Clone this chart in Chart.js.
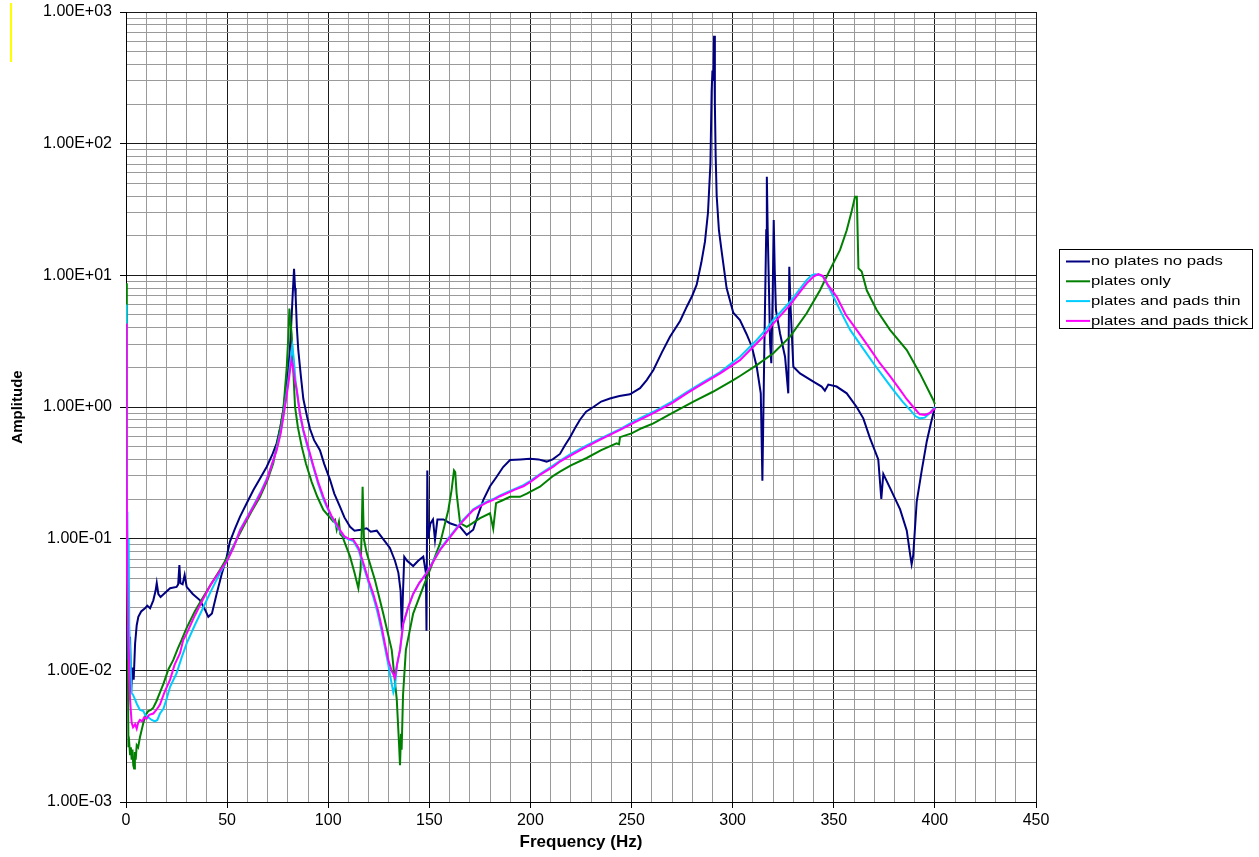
<!DOCTYPE html>
<html>
<head>
<meta charset="utf-8">
<script src="https://cdn.jsdelivr.net/npm/chart.js@4.4.0/dist/chart.umd.min.js"></script>
<style>
html,body{margin:0;padding:0;background:#ffffff;}
#wrap{position:relative;width:1259px;height:857px;}
#mark{position:absolute;left:10px;top:3px;width:2px;height:59px;background:#ffff00;}
</style>
</head>
<body>
<div id="wrap"><canvas id="c" width="1259" height="857"></canvas><div id="mark"></div></div>
<script>
// ---------------- data ----------------
const seriesNames = ['no plates no pads', 'plates only', 'plates and pads thin', 'plates and pads thick'];
const seriesColors = ['#000080', '#008000', '#00CCFF', '#FF00FF'];

const freqNoPlates = [0,0.5,1.0,1.5,2.0,2.5,3.2,3.8,4.5,5.3,6.1,7.5,9.4,10.5,11.9,13.5,14.6,15.2,16.0,17.1,19.5,21.8,25.0,25.8,26.4,26.9,28.0,29.0,30.0,33.0,36.6,39.0,40.7,42.5,44.8,47.5,49.8,51.4,54.0,56.4,60.0,63.0,66.5,69.6,72.5,74.5,76.5,77.8,79.0,80.3,81.3,81.9,82.5,83.1,83.6,83.9,84.5,85.2,86.5,87.7,89.5,91.0,93.0,95.9,98.0,100.9,103.0,105.8,108.0,110.8,113.0,116.0,119.0,121.0,124.0,127.0,130.5,133.0,134.7,135.8,136.4,137.0,137.6,139.0,142.0,144.5,147.0,148.3,148.6,149.0,149.4,150.5,151.8,152.8,154.0,157.0,160.2,165.2,168.5,171.7,174.0,176.7,180.0,183.3,186.5,189.9,195.0,199.8,204.0,208.0,211.0,214.6,217.0,219.6,222.0,224.5,227.5,231.1,235.0,239.3,244.0,249.2,254.2,257.5,260.8,265.0,269.0,274.0,277.3,280.0,282.2,284.5,286.3,287.8,289.0,289.6,290.0,290.4,290.8,291.2,291.6,292.1,293.2,294.6,297.0,300.3,303.6,306.9,309.5,311.9,313.9,314.7,315.6,316.6,316.9,317.3,318.0,318.5,319.1,319.8,320.3,320.8,321.4,323.4,325.9,327.5,328.0,328.7,330.0,333.3,339.9,344.0,345.6,347.3,351.4,356.4,361.3,364.6,367.9,372.0,373.5,374.5,377.8,382.8,386.1,387.8,388.5,389.3,391.0,393.5,396.0,398.0,400.0];
const ampNoPlates = [0.022,0.012,0.02,0.011,0.018,0.0068,0.0105,0.0085,0.016,0.022,0.0255,0.028,0.0296,0.031,0.0296,0.034,0.040,0.046,0.038,0.036,0.039,0.042,0.043,0.045,0.063,0.046,0.045,0.053,0.043,0.038,0.034,0.029,0.0255,0.027,0.038,0.055,0.073,0.095,0.12,0.147,0.19,0.234,0.29,0.352,0.44,0.53,0.72,0.95,1.35,1.91,3.2,4.85,7.5,11.2,8.0,6.9,4.0,2.7,1.7,1.15,0.85,0.68,0.56,0.47,0.37,0.28,0.22,0.175,0.145,0.123,0.115,0.117,0.12,0.113,0.115,0.10,0.085,0.068,0.055,0.04,0.02,0.04,0.073,0.068,0.062,0.068,0.073,0.055,0.02,0.33,0.10,0.13,0.14,0.098,0.14,0.14,0.131,0.123,0.107,0.117,0.15,0.197,0.25,0.295,0.35,0.396,0.40,0.405,0.40,0.385,0.40,0.44,0.51,0.59,0.69,0.8,0.92,1.0,1.1,1.16,1.21,1.25,1.39,1.6,1.91,2.6,3.42,4.5,5.78,7.0,8.5,12.5,18,30,70,250,360,300,660,200,80,40,22,15,8.0,5.2,4.58,3.57,2.87,2.02,1.27,0.275,2.41,22,56,23,7.3,3.05,2.15,7.3,26.3,11,5.45,3.63,2.41,1.27,11.6,5.45,2.02,1.8,1.56,1.43,1.33,1.48,1.43,1.27,1.0,0.82,0.58,0.40,0.2,0.31,0.243,0.167,0.115,0.075,0.064,0.075,0.19,0.33,0.55,0.75,1.0];

const freqPlatesOnly = [0,0.4,0.8,1.2,1.6,2.0,2.4,2.8,3.2,3.6,4.0,4.4,4.8,5.3,6.0,6.9,7.7,8.6,9.8,11.0,12.3,13.5,15.0,16.8,18.5,21.0,23.4,25.5,27.5,30.0,34.0,38.2,42.0,46.5,51.4,55.0,58.0,62.0,66.3,70.0,72.8,75.5,77.8,79.5,80.3,80.8,81.3,81.9,82.8,83.6,85.0,86.9,89.0,91.8,94.5,97.6,100.0,102.5,103.4,104.2,105.3,106.0,107.0,110.8,113.0,114.9,116.0,116.6,117.0,117.4,117.7,119.0,123.1,127.2,131.4,133.9,135.0,135.5,136.0,136.3,137.0,138.4,142.0,147.0,150.3,155.3,159.4,161.0,162.2,162.8,163.5,165.2,168.5,171.0,175.1,180.0,181.6,183.0,186.0,189.9,194.8,198.2,199.8,204.7,211.3,214.6,220.0,227.8,235.0,242.6,243.8,244.3,250.0,255.0,260.8,270.0,280.6,290.0,300.3,303.6,311.9,320.1,328.4,336.6,343.2,348.1,353.1,356.4,358.9,360.5,361.4,362.2,363.8,366.3,371.2,377.8,386.1,392.6,399.2,400.0];
const ampPlatesOnly = [8.7,0.3,0.02,0.0026,0.0028,0.0023,0.0026,0.0021,0.0025,0.0019,0.0018,0.0024,0.0021,0.0027,0.0026,0.0031,0.0035,0.004,0.0046,0.0049,0.005,0.0052,0.0058,0.0068,0.0079,0.0102,0.012,0.0145,0.017,0.021,0.028,0.036,0.045,0.058,0.078,0.1,0.123,0.16,0.208,0.28,0.373,0.6,0.95,2.02,3.5,5.6,4.5,3.6,1.8,1.0,0.7,0.5,0.37,0.27,0.21,0.165,0.15,0.135,0.139,0.117,0.135,0.108,0.104,0.073,0.055,0.042,0.058,0.12,0.248,0.14,0.098,0.078,0.0485,0.027,0.0143,0.006,0.0028,0.0019,0.0033,0.0025,0.0065,0.0143,0.027,0.043,0.058,0.092,0.165,0.234,0.33,0.32,0.22,0.131,0.123,0.13,0.143,0.156,0.119,0.186,0.195,0.208,0.208,0.22,0.227,0.248,0.3,0.323,0.36,0.41,0.47,0.53,0.52,0.59,0.63,0.69,0.75,0.9,1.1,1.3,1.6,1.72,2.08,2.56,3.42,5.15,7.7,11,15.6,22,31,39.5,39.5,11.3,10.7,7.7,5.45,3.85,2.71,1.8,1.13,1.05];

const freqPadsThin = [0,0.25,0.5,0.7,1.0,1.3,1.6,2.2,2.8,3.5,4.5,5.5,6.9,8.6,9.4,11.0,12.7,14.3,15.5,16.8,18.5,20.0,21.8,25.0,27.5,30.0,34.0,38.2,42.0,46.5,50.0,53.1,56.4,60.0,63.0,66.5,69.6,72.0,74.5,76.5,77.8,79.0,80.3,81.4,82.3,83.0,83.8,84.6,86.0,87.7,90.0,92.6,95.0,97.6,99.2,101.5,104.2,106.0,108.0,110.0,112.4,115.0,117.4,120.0,122.3,124.5,126.4,128.0,129.7,131.0,132.2,133.0,134.0,135.5,137.1,139.5,142.0,145.0,148.6,152.0,155.3,158.5,161.8,166.0,171.7,176.0,179.0,181.6,185.0,189.9,192.0,196.5,200.0,204.7,211.3,214.6,220.0,227.8,235.0,244.3,252.0,260.8,270.0,277.3,285.0,293.8,303.6,311.9,316.0,320.1,328.4,333.0,336.6,339.0,340.7,342.5,344.8,347.0,349.8,354.0,358.1,364.0,369.6,374.5,379.4,384.0,387.7,390.5,392.6,395.0,397.5,400.0];
const ampPadsThin = [6.0,0.5,0.16,0.12,0.035,0.1,0.022,0.012,0.0067,0.0065,0.006,0.0055,0.005,0.0049,0.0046,0.0044,0.0042,0.0041,0.0042,0.0047,0.0051,0.006,0.0075,0.0095,0.0125,0.016,0.022,0.030,0.040,0.055,0.068,0.086,0.117,0.147,0.178,0.225,0.285,0.36,0.48,0.65,0.86,1.15,1.6,2.3,2.87,2.3,1.6,1.3,0.88,0.65,0.48,0.35,0.26,0.2,0.175,0.148,0.125,0.113,0.103,0.099,0.096,0.082,0.062,0.046,0.036,0.027,0.02,0.015,0.011,0.0085,0.0068,0.0075,0.011,0.0143,0.0225,0.03,0.038,0.046,0.055,0.068,0.083,0.097,0.112,0.135,0.167,0.183,0.193,0.2,0.213,0.23,0.238,0.255,0.275,0.31,0.36,0.39,0.44,0.51,0.58,0.68,0.79,0.92,1.1,1.3,1.53,1.84,2.41,3.23,3.8,4.58,6.3,7.8,9.2,10.0,10.2,10.1,9.8,8.4,6.9,5.1,3.85,2.85,2.15,1.7,1.35,1.1,0.95,0.85,0.82,0.83,0.9,1.0];

const freqPadsThick = [0,0.3,0.6,1.0,1.5,2.0,2.8,3.5,4.5,5.3,6.0,6.9,8.0,9.0,10.2,11.5,13.5,15.0,16.8,19.0,21.8,24.0,26.7,28.3,30.0,34.0,38.2,42.0,46.5,50.0,53.1,56.4,60.0,63.0,66.5,69.6,72.0,74.5,76.5,77.8,79.0,80.3,81.3,81.9,82.6,83.5,84.4,86.0,87.7,90.0,92.6,95.0,97.6,99.2,101.5,104.2,106.0,108.0,110.0,112.4,115.0,117.4,120.0,122.3,124.5,126.4,128.0,129.7,131.5,133.0,134.0,135.5,137.1,139.5,142.0,145.0,148.6,152.0,155.3,158.5,161.8,166.0,171.7,176.0,179.0,181.6,185.0,189.9,192.0,196.5,200.0,204.7,211.3,214.6,220.0,227.8,235.0,244.3,252.0,260.8,270.0,277.3,285.0,293.8,303.6,310.2,315.0,320.1,328.4,333.0,336.6,340.0,342.4,344.5,347.0,351.4,356.0,361.3,367.0,372.8,378.0,382.8,386.0,389.3,392.5,395.1,397.5,400.0];
const ampPadsThick = [4.3,0.35,0.05,0.02,0.011,0.006,0.0040,0.0037,0.0039,0.0036,0.0040,0.0042,0.0041,0.0044,0.0043,0.0046,0.0047,0.005,0.0055,0.0068,0.0085,0.011,0.0135,0.017,0.019,0.026,0.035,0.045,0.057,0.068,0.085,0.115,0.145,0.175,0.22,0.28,0.36,0.47,0.63,0.84,1.1,1.51,2.0,2.27,2.0,1.6,1.35,0.9,0.67,0.5,0.36,0.27,0.208,0.18,0.15,0.128,0.115,0.104,0.1,0.098,0.085,0.065,0.048,0.038,0.029,0.0215,0.016,0.012,0.0098,0.0088,0.011,0.0143,0.0227,0.03,0.038,0.046,0.0546,0.067,0.082,0.095,0.11,0.133,0.165,0.18,0.19,0.197,0.21,0.227,0.235,0.25,0.27,0.305,0.352,0.385,0.43,0.5,0.57,0.67,0.77,0.9,1.07,1.27,1.5,1.8,2.27,2.87,3.4,4.3,5.96,7.4,8.7,9.8,10.2,9.9,8.5,6.9,5.0,3.85,2.9,2.15,1.7,1.35,1.15,1.0,0.88,0.87,0.9,0.98];

const yDecades = [0.001, 0.01, 0.1, 1, 10, 100, 1000];
const yTickLabels = ['1.00E-03', '1.00E-02', '1.00E-01', '1.00E+00', '1.00E+01', '1.00E+02', '1.00E+03'];
const xMin = 0, xMax = 450, xMinorStep = 10, xLabelStep = 50;

// ---------------- build ----------------
const freqs = [freqNoPlates, freqPlatesOnly, freqPadsThin, freqPadsThick];
const amps = [ampNoPlates, ampPlatesOnly, ampPadsThin, ampPadsThick];
const drawOrder = [4, 3, 2, 1];

const datasets = seriesNames.map((name, i) => ({
  label: name,
  data: freqs[i].map((f, k) => ({x: f, y: amps[i][k]})),
  borderColor: seriesColors[i],
  backgroundColor: seriesColors[i],
  borderWidth: 2,
  pointRadius: 0,
  fill: false,
  tension: 0,
  order: drawOrder[i]
}));

const xTicks = [];
for (let v = xMin; v <= xMax; v += xMinorStep) xTicks.push(v);
const yTicks = [];
yDecades.forEach((d, i) => {
  if (i === yDecades.length - 1) { yTicks.push(d); return; }
  for (let m = 1; m <= 9; m++) yTicks.push(+(d * m).toPrecision(6));
});

function decadeIndex(v) {
  for (let i = 0; i < yDecades.length; i++) {
    if (Math.abs(v / yDecades[i] - 1) < 1e-6) return i;
  }
  return -1;
}
const FONT = "'Liberation Sans', Arial, sans-serif";
const MAJOR = '#1a1a1a', MINOR = '#9a9a9a';

const boxLegend = {
  id: 'boxLegend',
  afterDraw(chart) {
    const ctx = chart.ctx;
    ctx.save();
    const bx = 1059.5, by = 249.5, bw = 193, bh = 79;
    ctx.fillStyle = '#ffffff';
    ctx.fillRect(bx, by, bw, bh);
    ctx.strokeStyle = '#000000';
    ctx.lineWidth = 1;
    ctx.strokeRect(bx, by, bw, bh);
    ctx.font = '13.5px ' + FONT;
    ctx.textBaseline = 'middle';
    ctx.textAlign = 'left';
    let longest = 0;
    chart.data.datasets.forEach(ds => { longest = Math.max(longest, ctx.measureText(ds.label).width); });
    const sx = 157 / longest;
    chart.data.datasets.forEach((ds, i) => {
      const y = 261.5 + i * 19.8;
      ctx.strokeStyle = ds.borderColor;
      ctx.lineWidth = 2;
      ctx.beginPath();
      ctx.moveTo(1066, y);
      ctx.lineTo(1090, y);
      ctx.stroke();
      ctx.save();
      ctx.translate(1091, y);
      ctx.scale(sx, 1);
      ctx.fillStyle = '#000000';
      ctx.fillText(ds.label, 0, 0);
      ctx.restore();
    });
    ctx.restore();
  }
};

new Chart(document.getElementById('c'), {
  type: 'line',
  data: {datasets},
  plugins: [boxLegend],
  options: {
    responsive: false,
    animation: false,
    devicePixelRatio: 1,
    layout: {padding: {left: 0, right: 223, top: 12, bottom: 0}},
    plugins: {legend: {display: false}, tooltip: {enabled: false}},
    scales: {
      x: {
        type: 'linear',
        min: xMin, max: xMax,
        afterBuildTicks: s => { s.ticks = xTicks.map(v => ({value: v})); },
        afterFit: s => { s.height = 55; },
        ticks: {
          autoSkip: false, maxRotation: 0, minRotation: 0, padding: 3,
          color: '#000', font: {family: FONT, size: 16},
          callback: v => (v % xLabelStep === 0 ? String(v) : '')
        },
        grid: {
          color: c => (c.tick && c.tick.value % xLabelStep === 0 ? MAJOR : MINOR),
          lineWidth: 1,
          drawTicks: true,
          tickLength: 6,
          tickColor: c => (c.tick && c.tick.value % xLabelStep === 0 ? '#000' : 'rgba(0,0,0,0)')
        },
        border: {display: true, color: '#000', width: 1},
        title: {display: true, text: 'Frequency (Hz)', color: '#000',
                font: {family: FONT, size: 17, weight: 'bold'}, padding: {top: 0, bottom: 4}}
      },
      y: {
        type: 'logarithmic',
        min: yDecades[0], max: yDecades[yDecades.length - 1],
        afterBuildTicks: s => { s.ticks = yTicks.map(v => ({value: v, major: decadeIndex(v) >= 0})); },
        afterFit: s => { s.width = 126; s.paddingTop = 0; s.paddingBottom = 0; },
        ticks: {
          autoSkip: false, padding: 8, color: '#000', font: {family: FONT, size: 16},
          callback: v => { const i = decadeIndex(v); return i >= 0 ? yTickLabels[i] : ''; }
        },
        grid: {
          color: c => (c.tick && decadeIndex(c.tick.value) >= 0 ? MAJOR : MINOR),
          lineWidth: 1,
          drawTicks: true,
          tickLength: 6,
          tickColor: c => (c.tick && decadeIndex(c.tick.value) >= 0 ? '#000' : 'rgba(0,0,0,0)')
        },
        border: {display: true, color: '#000', width: 1},
        title: {display: true, text: 'Amplitude', color: '#000',
                font: {family: FONT, size: 15, weight: 'bold'}, padding: {top: 9, bottom: 0}}
      }
    }
  }
});
</script>
</body>
</html>
